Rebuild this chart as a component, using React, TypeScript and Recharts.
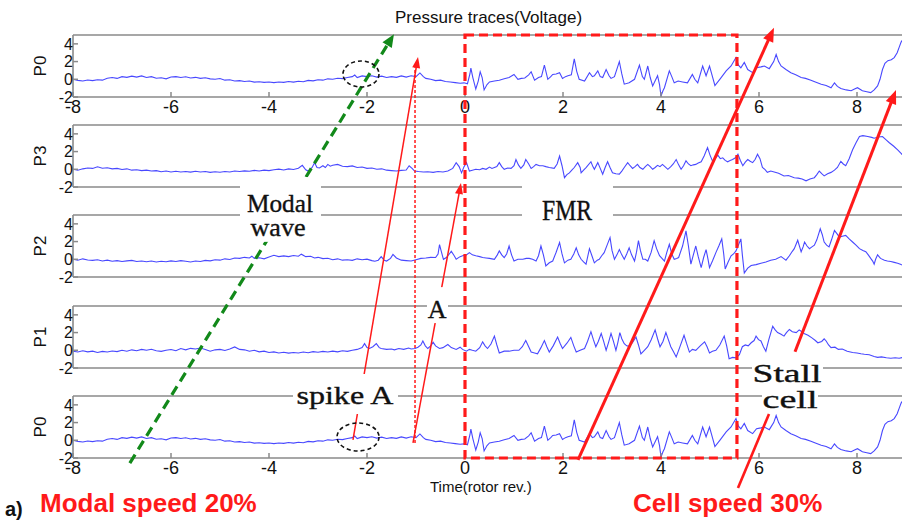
import React from 'react';
import {
  LineChart,
  Line,
  XAxis,
  YAxis,
  ComposedChart,
  ReferenceLine,
  ReferenceArea,
  ReferenceDot,
} from 'recharts';

// ---------- axis values ----------
const X_TICKS = [-8, -6, -4, -2, 0, 2, 4, 6, 8];
const Y_TICKS = [-2, 0, 2, 4];
const X_DOMAIN: [number, number] = [-8, 9];
const Y_DOMAIN: [number, number] = [-2, 5];
const PANEL_LABELS = ['P0', 'P3', 'P2', 'P1', 'P0'];

// ---------- traces: [time (rotor rev.), voltage] ----------
const P0: [number, number][] = [
  [-8.0, 0.0], [-7.9, -0.12], [-7.8, -0.2], [-7.7, -0.08], [-7.6, -0.15], [-7.5, -0.05], [-7.4, -0.1], [-7.3, 0.12],
  [-7.2, 0.2], [-7.1, 0.1], [-7.0, 0.3], [-6.9, 0.22], [-6.8, 0.35], [-6.7, 0.25], [-6.6, 0.38], [-6.5, 0.2],
  [-6.4, 0.3], [-6.3, 0.12], [-6.2, 0.18], [-6.1, 0.05], [-6.0, 0.25], [-5.9, 0.3], [-5.8, 0.2], [-5.7, 0.28],
  [-5.6, 0.15], [-5.5, 0.22], [-5.4, 0.1], [-5.3, 0.18], [-5.2, 0.05], [-5.1, 0.0], [-5.0, 0.08], [-4.9, -0.1],
  [-4.8, -0.05], [-4.7, -0.2], [-4.6, -0.15], [-4.5, -0.25], [-4.4, -0.2], [-4.3, -0.32], [-4.2, -0.28], [-4.1, -0.35],
  [-4.0, -0.3], [-3.9, -0.38], [-3.8, -0.3], [-3.7, -0.35], [-3.6, -0.25], [-3.5, -0.32], [-3.4, -0.22], [-3.3, -0.28],
  [-3.2, -0.12], [-3.1, -0.18], [-3.0, -0.05], [-2.9, -0.1], [-2.8, 0.05], [-2.7, 0.0], [-2.6, 0.12], [-2.5, 0.08],
  [-2.4, 0.2], [-2.3, 0.3], [-2.25, 0.48], [-2.2, 0.2], [-2.1, 0.38], [-2.0, 0.3], [-1.9, 0.4], [-1.8, 0.25],
  [-1.7, 0.35], [-1.6, 0.2], [-1.5, 0.3], [-1.4, 0.22], [-1.3, 0.38], [-1.2, 0.25], [-1.1, 0.4], [-1.0, 0.3],
  [-0.92, 0.72], [-0.85, 0.3], [-0.8, 0.1], [-0.7, 0.0], [-0.6, -0.15], [-0.5, -0.1], [-0.4, -0.25], [-0.3, -0.3],
  [-0.2, -0.38], [-0.1, -0.45], [-0.02, -0.4], [0.05, -0.5], [0.1, 0.6], [0.12, 1.25], [0.16, 0.2], [0.22, -1.1],
  [0.27, -0.2], [0.31, 0.85], [0.35, 0.2], [0.39, -1.2], [0.45, -0.6], [0.5, -0.3], [0.6, -0.2], [0.7, -0.1],
  [0.8, 0.05], [0.9, 0.2], [1.0, 0.55], [1.08, 0.0], [1.15, 0.1], [1.22, 0.15], [1.3, 0.5], [1.35, 0.85],
  [1.42, -0.1], [1.5, 0.2], [1.56, 0.3], [1.62, 1.6], [1.69, 0.0], [1.75, 0.3], [1.79, 0.55], [1.86, 0.6],
  [1.93, 0.75], [1.99, 0.1], [2.05, 0.3], [2.1, 0.4], [2.17, 0.5], [2.23, 2.3], [2.28, 0.9], [2.33, 0.0],
  [2.44, -0.2], [2.54, 0.75], [2.6, 0.3], [2.64, 0.4], [2.71, 0.95], [2.76, 0.3], [2.81, 0.2], [2.88, 1.1],
  [2.94, 0.4], [2.98, 0.1], [3.05, 0.3], [3.15, 2.0], [3.2, 0.6], [3.25, -0.55], [3.35, -0.4], [3.46, 0.0],
  [3.56, 1.6], [3.62, 0.3], [3.66, 0.0], [3.73, 1.5], [3.78, 0.2], [3.83, -0.75], [3.93, 0.4], [3.97, -0.6],
  [4.0, -1.9], [4.04, -1.3], [4.07, -0.95], [4.17, 0.95], [4.22, 0.3], [4.27, -0.4], [4.35, -0.2], [4.44, -0.3],
  [4.54, -0.4], [4.64, 0.55], [4.69, 0.0], [4.75, -0.4], [4.85, 1.5], [4.92, 0.4], [4.99, 1.5], [5.05, 0.3],
  [5.1, -0.7], [5.2, 0.0], [5.33, 0.95], [5.43, 1.5], [5.53, 2.45], [5.58, 1.6], [5.63, 1.3], [5.7, 1.9],
  [5.77, 1.1], [5.87, 0.75], [5.95, 1.3], [6.04, 1.4], [6.11, 1.5], [6.21, 1.2], [6.3, 2.0], [6.35, 2.8],
  [6.4, 2.0], [6.45, 1.5], [6.55, 1.1], [6.65, 0.75], [6.75, 0.5], [6.86, 0.2], [6.95, 0.1], [7.06, -0.1],
  [7.15, -0.3], [7.27, -0.55], [7.37, -0.7], [7.47, -0.95], [7.54, -0.4], [7.6, -0.8], [7.67, -1.05], [7.78, -1.2],
  [7.88, -1.3], [7.95, -1.1], [8.01, -0.95], [8.11, -1.3], [8.2, -1.4], [8.28, -1.5], [8.35, -1.2], [8.42, -0.75],
  [8.47, 0.0], [8.52, 1.1], [8.57, 1.8], [8.63, 2.1], [8.7, 2.2], [8.76, 2.45], [8.82, 3.0], [8.86, 3.6],
  [8.9, 4.2], [8.95, 4.6], [9.0, 4.8],
];

const P3: [number, number][] = [
  [-8.0, 0.0], [-7.9, -0.1], [-7.8, 0.05], [-7.7, 0.15], [-7.6, 0.1], [-7.5, 0.28], [-7.4, 0.12], [-7.3, 0.18],
  [-7.2, 0.05], [-7.1, 0.1], [-7.0, -0.02], [-6.9, 0.05], [-6.8, -0.1], [-6.7, -0.05], [-6.6, -0.15], [-6.5, -0.1],
  [-6.4, -0.2], [-6.3, -0.15], [-6.2, -0.28], [-6.1, -0.2], [-6.0, -0.3], [-5.9, -0.22], [-5.8, -0.3], [-5.7, -0.25],
  [-5.6, -0.32], [-5.5, -0.22], [-5.4, -0.3], [-5.3, -0.25], [-5.2, -0.35], [-5.1, -0.28], [-5.0, -0.33], [-4.9, -0.25],
  [-4.8, -0.3], [-4.7, -0.2], [-4.6, -0.25], [-4.5, -0.18], [-4.4, -0.22], [-4.3, -0.12], [-4.2, -0.2], [-4.1, -0.1],
  [-4.0, -0.15], [-3.9, -0.05], [-3.8, 0.02], [-3.7, -0.08], [-3.6, 0.05], [-3.5, -0.02], [-3.4, 0.12], [-3.32, 0.45],
  [-3.25, -0.05], [-3.2, -0.2], [-3.12, 0.2], [-3.07, 0.75], [-3.02, 0.2], [-2.97, 0.15], [-2.9, 0.4], [-2.85, 0.2],
  [-2.8, 0.55], [-2.75, 0.35], [-2.7, 0.45], [-2.6, 0.55], [-2.5, 0.35], [-2.4, 0.3], [-2.3, 0.38], [-2.2, 0.2],
  [-2.1, 0.25], [-2.0, 0.1], [-1.9, 0.15], [-1.8, 0.0], [-1.7, 0.05], [-1.6, -0.1], [-1.5, -0.15], [-1.4, -0.2],
  [-1.3, -0.12], [-1.2, -0.08], [-1.14, 0.4], [-1.08, 0.1], [-1.03, -0.2], [-0.95, -0.25], [-0.85, -0.3], [-0.76, -0.28],
  [-0.65, -0.35], [-0.55, -0.25], [-0.45, -0.3], [-0.35, -0.2], [-0.25, 0.1], [-0.18, 0.75], [-0.12, 0.3], [-0.07, -0.4],
  [-0.02, 0.3], [0.03, 0.75], [0.09, -0.2], [0.15, -0.1], [0.22, 0.0], [0.3, -0.05], [0.36, 0.1], [0.43, 0.0],
  [0.5, 0.25], [0.55, 0.1], [0.6, 0.2], [0.65, 0.3], [0.7, 0.75], [0.75, 0.3], [0.8, 0.0], [0.87, 0.15],
  [0.94, 0.1], [1.0, 0.4], [1.04, 1.1], [1.09, 0.5], [1.14, 0.1], [1.2, 0.5], [1.24, 1.1], [1.3, 0.6],
  [1.35, 0.1], [1.4, 0.3], [1.45, 0.55], [1.52, 0.4], [1.59, 0.4], [1.65, 0.3], [1.72, 0.2], [1.82, 0.1],
  [1.88, 0.6], [1.93, 1.5], [1.98, 0.4], [2.03, -0.95], [2.08, -0.6], [2.13, -0.4], [2.18, -0.1], [2.23, 0.2],
  [2.3, 0.75], [2.35, 0.2], [2.37, -0.4], [2.42, -0.1], [2.47, 0.2], [2.57, 0.85], [2.61, 0.3], [2.64, 0.0],
  [2.71, 0.75], [2.76, 0.1], [2.81, -0.55], [2.86, 0.2], [2.91, 0.85], [2.96, 0.2], [3.01, -0.4], [3.08, -0.5],
  [3.15, -0.55], [3.2, -0.2], [3.25, 0.2], [3.32, 0.75], [3.37, 0.4], [3.42, 0.1], [3.47, 0.3], [3.52, 0.55],
  [3.57, 0.2], [3.63, 0.0], [3.68, 0.3], [3.73, 0.55], [3.78, 0.3], [3.83, 0.0], [3.88, 0.2], [3.93, 0.45],
  [3.98, 0.3], [4.03, 0.55], [4.08, 0.3], [4.14, 0.0], [4.2, 0.3], [4.25, 0.6], [4.31, 1.1], [4.36, 0.5],
  [4.41, 0.0], [4.46, 0.4], [4.51, 0.95], [4.56, 0.6], [4.61, 0.4], [4.66, 0.5], [4.71, 0.55], [4.76, 0.7],
  [4.82, 0.85], [4.88, 1.5], [4.95, 2.45], [5.0, 1.6], [5.05, 0.95], [5.1, 1.2], [5.16, 1.6], [5.21, 1.2],
  [5.26, 1.3], [5.31, 1.0], [5.36, 0.85], [5.41, 1.0], [5.46, 1.1], [5.52, 1.3], [5.57, 1.7], [5.62, 1.0],
  [5.67, 0.4], [5.72, 0.8], [5.77, 1.1], [5.82, 0.9], [5.87, 0.75], [5.92, 1.1], [5.97, 1.7], [6.02, 1.2],
  [6.07, 0.2], [6.12, 0.0], [6.17, -0.35], [6.24, -0.2], [6.31, -0.3], [6.4, -0.45], [6.51, -0.75], [6.6, -0.7],
  [6.72, -0.95], [6.8, -1.0], [6.88, -1.1], [6.96, -1.3], [7.04, -1.1], [7.13, -0.95], [7.18, -0.6], [7.23, -0.2],
  [7.28, -0.5], [7.33, -0.75], [7.4, -0.5], [7.47, -0.35], [7.54, -0.1], [7.6, 0.2], [7.67, 0.9], [7.72, 0.6],
  [7.77, 0.4], [7.84, 1.2], [7.91, 2.2], [7.98, 3.0], [8.05, 3.7], [8.12, 3.8], [8.22, 3.7], [8.3, 3.6],
  [8.35, 3.5], [8.44, 3.65], [8.52, 3.7], [8.6, 3.3], [8.66, 3.0], [8.75, 2.6], [8.83, 2.2], [8.9, 1.8],
  [8.95, 1.5], [9.0, 1.3],
];

const P2: [number, number][] = [
  [-8.0, 0.0], [-7.9, -0.1], [-7.8, 0.05], [-7.7, -0.08], [-7.6, -0.12], [-7.5, -0.05], [-7.4, -0.2], [-7.3, -0.1],
  [-7.2, -0.22], [-7.1, -0.15], [-7.0, -0.25], [-6.9, -0.18], [-6.8, -0.12], [-6.7, -0.25], [-6.6, -0.2], [-6.5, -0.28],
  [-6.4, -0.2], [-6.3, -0.3], [-6.2, -0.22], [-6.1, -0.28], [-6.0, -0.18], [-5.9, -0.25], [-5.8, -0.15], [-5.7, -0.22],
  [-5.6, -0.3], [-5.5, -0.2], [-5.4, -0.25], [-5.3, -0.12], [-5.2, -0.18], [-5.1, -0.05], [-5.0, -0.1], [-4.9, 0.05],
  [-4.8, -0.02], [-4.7, 0.15], [-4.6, 0.1], [-4.5, 0.22], [-4.4, 0.15], [-4.35, 0.35], [-4.3, 0.1], [-4.2, 0.18],
  [-4.1, 0.05], [-4.0, 0.25], [-3.9, 0.45], [-3.8, 0.3], [-3.7, 0.38], [-3.6, 0.3], [-3.5, 0.42], [-3.4, 0.35],
  [-3.34, 0.58], [-3.25, 0.3], [-3.15, 0.35], [-3.07, 0.15], [-3.0, 0.22], [-2.9, 0.08], [-2.8, 0.12], [-2.7, -0.05],
  [-2.6, 0.05], [-2.5, -0.1], [-2.4, -0.05], [-2.3, -0.12], [-2.2, 0.05], [-2.1, -0.05], [-2.0, 0.02], [-1.9, -0.15],
  [-1.84, -0.22], [-1.77, -0.1], [-1.71, 0.3], [-1.65, -0.1], [-1.6, -0.2], [-1.52, 0.1], [-1.47, 0.55], [-1.4, 0.15],
  [-1.3, -0.1], [-1.2, -0.15], [-1.1, -0.2], [-1.0, -0.05], [-0.9, 0.1], [-0.8, 0.15], [-0.7, 0.22], [-0.6, 0.2],
  [-0.55, 0.6], [-0.52, 1.65], [-0.48, 0.8], [-0.44, 0.0], [-0.38, 0.2], [-0.32, 0.6], [-0.28, 0.9], [-0.22, 0.4],
  [-0.18, 0.0], [-0.1, 0.3], [-0.05, 0.4], [0.02, 0.45], [0.09, 0.75], [0.15, 0.5], [0.22, 0.4], [0.3, 0.3],
  [0.36, 0.2], [0.43, 0.15], [0.5, 0.1], [0.55, 0.05], [0.6, 0.0], [0.66, 0.5], [0.7, 0.95], [0.75, 0.5],
  [0.8, 0.2], [0.85, 0.6], [0.9, 1.5], [0.95, 0.5], [1.0, -0.2], [1.08, 0.0], [1.18, 0.0], [1.25, 0.1],
  [1.31, 0.1], [1.38, 0.0], [1.45, -0.2], [1.5, 0.4], [1.55, 1.5], [1.6, 0.5], [1.65, -0.75], [1.72, -0.4],
  [1.79, -0.2], [1.86, 0.8], [1.93, 1.9], [1.98, 0.6], [2.03, -0.4], [2.1, -0.1], [2.16, 0.0], [2.22, 0.6],
  [2.27, 1.3], [2.32, 0.5], [2.37, 0.0], [2.42, -0.3], [2.47, -0.55], [2.54, 1.2], [2.59, 0.4], [2.64, -0.4],
  [2.7, -0.1], [2.74, 0.0], [2.79, 0.4], [2.84, 0.75], [2.9, 1.6], [2.96, 2.45], [3.0, 1.0], [3.05, 0.0],
  [3.1, 0.5], [3.15, 1.1], [3.2, 0.5], [3.25, 0.0], [3.3, 0.6], [3.35, 1.3], [3.4, 0.5], [3.46, -0.2],
  [3.5, 0.8], [3.54, 2.1], [3.58, 1.0], [3.63, 0.0], [3.68, 0.0], [3.73, -0.2], [3.8, 0.8], [3.86, 2.1],
  [3.91, 1.2], [3.97, 0.4], [4.02, 0.1], [4.07, -0.2], [4.12, 0.8], [4.17, 1.7], [4.22, 0.6], [4.27, 0.0],
  [4.32, 0.1], [4.36, 0.2], [4.44, 1.5], [4.51, 3.2], [4.56, 1.5], [4.61, -0.55], [4.66, 0.5], [4.71, 1.5],
  [4.76, 0.3], [4.82, -0.95], [4.87, 0.2], [4.92, 1.1], [4.96, 0.0], [4.99, -0.95], [5.05, -0.2], [5.12, 0.75],
  [5.18, 1.5], [5.24, 2.3], [5.28, 0.6], [5.31, -1.1], [5.37, -0.3], [5.43, 0.4], [5.48, 0.6], [5.53, 0.95],
  [5.58, 1.6], [5.63, 2.3], [5.66, 0.5], [5.7, -1.55], [5.77, -1.0], [5.84, -0.7], [5.94, -0.6], [6.04, -0.45],
  [6.14, -0.3], [6.24, -0.1], [6.34, 0.0], [6.45, 0.3], [6.5, 0.1], [6.55, -0.1], [6.62, 0.4], [6.68, 0.9],
  [6.72, 1.2], [6.79, 2.15], [6.83, 1.4], [6.86, 0.85], [6.9, 1.4], [6.93, 1.95], [6.98, 1.5], [7.03, 1.2],
  [7.08, 1.4], [7.13, 1.6], [7.18, 2.2], [7.25, 3.45], [7.29, 2.8], [7.33, 1.95], [7.38, 1.6], [7.43, 1.4],
  [7.48, 2.2], [7.54, 3.25], [7.59, 2.9], [7.64, 2.5], [7.7, 2.6], [7.77, 2.7], [7.84, 2.3], [7.91, 1.95],
  [7.98, 1.6], [8.05, 1.2], [8.12, 1.0], [8.18, 0.85], [8.23, 0.5], [8.28, 0.1], [8.32, -0.2], [8.35, -0.55],
  [8.38, 0.0], [8.42, 0.5], [8.48, 0.1], [8.56, -0.1], [8.62, -0.2], [8.69, -0.25], [8.76, -0.35], [8.83, -0.45],
  [8.9, -0.6], [8.95, -0.7], [9.0, -0.75],
];

const P1: [number, number][] = [
  [-8.0, -0.1], [-7.9, -0.2], [-7.8, -0.05], [-7.7, -0.18], [-7.6, -0.1], [-7.5, -0.25], [-7.4, -0.12], [-7.3, -0.2],
  [-7.2, -0.08], [-7.1, -0.15], [-7.0, 0.0], [-6.9, -0.1], [-6.8, 0.05], [-6.7, -0.05], [-6.6, 0.1], [-6.5, 0.0],
  [-6.4, 0.12], [-6.3, -0.05], [-6.2, -0.12], [-6.1, 0.0], [-6.0, 0.08], [-5.9, -0.05], [-5.8, 0.2], [-5.7, 0.05],
  [-5.6, 0.22], [-5.5, 0.15], [-5.4, 0.25], [-5.3, 0.1], [-5.2, -0.1], [-5.1, 0.05], [-5.0, 0.1], [-4.9, -0.02],
  [-4.8, 0.15], [-4.7, 0.38], [-4.6, 0.1], [-4.5, 0.05], [-4.4, -0.1], [-4.3, 0.0], [-4.2, -0.18], [-4.1, -0.1],
  [-4.0, -0.25], [-3.9, -0.18], [-3.8, -0.3], [-3.7, -0.22], [-3.6, -0.32], [-3.5, -0.25], [-3.4, -0.3], [-3.3, -0.2],
  [-3.2, -0.28], [-3.1, -0.15], [-3.0, -0.22], [-2.9, -0.12], [-2.8, -0.2], [-2.7, -0.1], [-2.6, -0.18], [-2.5, -0.05],
  [-2.4, -0.12], [-2.3, 0.0], [-2.2, 0.1], [-2.1, 0.3], [-2.05, 0.75], [-2.0, 0.3], [-1.95, 0.2], [-1.88, 0.4],
  [-1.81, 0.75], [-1.75, 0.3], [-1.71, 0.2], [-1.6, 0.1], [-1.5, 0.15], [-1.44, 0.05], [-1.35, 0.2], [-1.25, 0.1],
  [-1.15, 0.25], [-1.1, 0.15], [-1.02, 0.2], [-0.96, 0.35], [-0.9, 0.6], [-0.86, 1.05], [-0.81, 0.5], [-0.76, 0.2],
  [-0.7, 0.5], [-0.65, 0.9], [-0.6, 0.5], [-0.52, 0.2], [-0.45, 0.3], [-0.35, 0.65], [-0.28, 0.3], [-0.18, 0.1],
  [-0.1, 0.35], [-0.05, 0.1], [0.03, -0.1], [0.09, 0.1], [0.15, 0.0], [0.22, -0.1], [0.3, 0.3], [0.36, 0.95],
  [0.41, 0.5], [0.46, 0.2], [0.53, 0.7], [0.6, 1.6], [0.65, 0.6], [0.7, -0.3], [0.8, -0.1], [0.9, -0.1],
  [1.0, 0.0], [1.1, 0.0], [1.17, 0.4], [1.24, 1.1], [1.3, 0.4], [1.35, -0.2], [1.42, -0.3], [1.48, -0.4],
  [1.55, 0.3], [1.62, 1.1], [1.67, 0.4], [1.72, -0.2], [1.8, 0.5], [1.89, 1.5], [1.94, 0.8], [1.99, 0.2],
  [2.08, 0.8], [2.16, 1.45], [2.22, 0.5], [2.27, -0.2], [2.35, 0.0], [2.44, 0.2], [2.5, 1.0], [2.57, 2.1],
  [2.62, 1.2], [2.67, 0.4], [2.72, 1.0], [2.78, 1.9], [2.83, 1.0], [2.88, 0.0], [2.93, 0.9], [2.98, 1.9],
  [3.03, 1.0], [3.08, 0.0], [3.12, 0.9], [3.16, 2.0], [3.2, 1.3], [3.25, 0.75], [3.3, 0.5], [3.35, 0.45],
  [3.42, 0.9], [3.49, 1.5], [3.54, 0.6], [3.59, -0.4], [3.66, 0.0], [3.73, 0.4], [3.8, 1.2], [3.88, 2.3],
  [3.93, 1.3], [3.98, 0.4], [4.04, 1.0], [4.1, 2.0], [4.15, 1.2], [4.2, 0.4], [4.25, -0.1], [4.31, -0.75],
  [4.38, 0.3], [4.47, 1.7], [4.52, 0.8], [4.58, -0.2], [4.64, 0.1], [4.71, 0.0], [4.8, 0.5], [4.89, 0.95],
  [4.94, 0.4], [4.99, -0.3], [5.05, -0.1], [5.12, 0.0], [5.2, 0.6], [5.29, 1.6], [5.34, 0.5], [5.39, -0.95],
  [5.46, -0.8], [5.53, -0.85], [5.6, -0.5], [5.66, 0.4], [5.72, 0.6], [5.78, 0.5], [5.84, 0.85], [5.9, 1.1],
  [5.94, 1.6], [5.99, 1.2], [6.04, 1.05], [6.09, 0.4], [6.14, -0.1], [6.2, 1.2], [6.28, 2.7], [6.33, 2.3],
  [6.38, 2.0], [6.45, 1.8], [6.51, 1.6], [6.56, 2.0], [6.62, 2.35], [6.68, 2.1], [6.76, 2.0], [6.82, 2.3],
  [6.86, 2.15], [6.92, 1.9], [7.0, 1.7], [7.08, 1.4], [7.15, 1.1], [7.2, 0.85], [7.28, 1.0], [7.33, 1.3],
  [7.37, 1.05], [7.42, 0.6], [7.47, 0.3], [7.55, 0.35], [7.62, 0.1], [7.7, 0.15], [7.8, -0.1], [7.91, -0.25],
  [8.0, -0.3], [8.08, -0.4], [8.15, -0.45], [8.25, -0.5], [8.35, -0.7], [8.42, -0.8], [8.5, -0.75], [8.6, -0.85],
  [8.69, -0.9], [8.78, -0.85], [8.86, -0.9], [8.94, -0.8], [9.0, -0.85],
];

const PANEL_TRACES = [P0, P3, P2, P1, P0];

// ---------- annotations: [time, stack height % (0 = bottom of last panel, 100 = top of first)] ----------
const MODAL_WAVE_PATH: [number, number][] = [[-6.84, -1.2], [-1.45, 100.2]];
const SPIKE_A_PATH: [number, number][] = [[-2.286, 4.26], [-0.959, 94.8]];
const A_PATH: [number, number][] = [[-1.061, 3.55], [-0.082, 65.0]];
const SPIKE_A_TIME: [number, number][] = [[-1.02, 3.55], [-1.02, 92.4]];
const CELL_PATH_1: [number, number][] = [[2.306, -0.47], [6.306, 101.7]];
const CELL_PATH_2: [number, number][] = [[6.735, 25.1], [8.796, 87.0]];
const CELL_POINTER: [number, number][] = [[5.571, -7.09], [6.204, 10.4]];
const FMR_WINDOW = { t1: 0, t2: 5.55, h1: 0, h2: 100 };
const SPIKE_MARKS = [
  { t1: -2.49, t2: -1.755, h1: 87.7, h2: 93.85 },
  { t1: -2.612, t2: -1.755, h1: 1.65, h2: 8.27 },
];
const LABEL_BOXES = [
  { t1: -4.592, t2: -2.939, h1: 51.1, h2: 66.4 },
  { t1: 1.163, t2: 3.02, h1: 55.8, h2: 65.7 },
  { t1: -0.776, t2: -0.347, h1: 31.9, h2: 40.4 },
  { t1: -3.51, t2: -1.367, h1: 10.4, h2: 19.86 },
  { t1: 5.857, t2: 7.306, h1: 17.0, h2: 23.6 },
  { t1: 6.061, t2: 7.204, h1: 10.9, h2: 17.0 },
];
const LABEL_TEXTS = [
  { text: 'Modal', t: -3.776, h: 58.2, size: 25, len: 66 },
  { text: 'wave', t: -3.816, h: 52.5, size: 25, len: 55 },
  { text: 'FMR', t: 2.082, h: 56.3, size: 29, len: 50 },
  { text: 'A', t: -0.571, h: 33.1, size: 26, len: 0 },
  { text: 'spike A', t: -2.449, h: 12.77, size: 25, len: 97 },
  { text: 'Stall', t: 6.571, h: 17.97, size: 25, len: 69 },
  { text: 'cell', t: 6.633, h: 11.82, size: 25, len: 55 },
];
const ALL_PATHS = [MODAL_WAVE_PATH, SPIKE_A_PATH, A_PATH, SPIKE_A_TIME, CELL_PATH_1, CELL_PATH_2, CELL_POINTER];
const OVERLAY_DATA = ALL_PATHS.flat().map(([t, h]) => ({ t, h }));

// ---------- styles ----------
const FRAME = '#8a8a8a';
const TRACE = '#4848ff';
const RED = '#ff1a1a';
const GREEN = '#12891a';
const PANEL_TOPS = [35, 125, 215, 306, 396];
const PANEL_H = 62;
const CHART_W = 910;

function segmentShape(color: string, width: number, dash?: string, head?: [number, number]) {
  return (p: any) => {
    const { x1, y1, x2, y2 } = p;
    if ([x1, y1, x2, y2].some((v) => typeof v !== 'number' || Number.isNaN(v))) return <g />;
    const dx = x2 - x1;
    const dy = y2 - y1;
    const len = Math.hypot(dx, dy) || 1;
    const ux = dx / len;
    const uy = dy / len;
    let ex = x2;
    let ey = y2;
    let poly: React.ReactNode = null;
    if (head) {
      const bx = x2 - ux * head[0];
      const by = y2 - uy * head[0];
      const px = -uy * head[1];
      const py = ux * head[1];
      ex = x2 - ux * head[0] * 0.7;
      ey = y2 - uy * head[0] * 0.7;
      poly = <polygon points={`${x2},${y2} ${bx + px},${by + py} ${bx - px},${by - py}`} fill={color} />;
    }
    return (
      <g>
        <line x1={x1} y1={y1} x2={ex} y2={ey} stroke={color} strokeWidth={width} strokeDasharray={dash} />
        {poly}
      </g>
    );
  };
}

const whiteBox = (p: any) => <rect x={p.x} y={p.y} width={p.width} height={p.height} fill="#ffffff" />;
const ellipseShape = (p: any) => (
  <ellipse
    cx={p.x + p.width / 2}
    cy={p.y + p.height / 2}
    rx={Math.abs(p.width / 2)}
    ry={Math.abs(p.height / 2)}
    fill="none"
    stroke="#111"
    strokeWidth={1.6}
    strokeDasharray="4 3"
  />
);
const windowShape = (p: any) => (
  <rect x={p.x} y={p.y} width={p.width} height={p.height} fill="none" stroke={RED} strokeWidth={3.2} strokeDasharray="9 5" />
);
const textShape = (text: string, size: number, len: number) => (p: any) => (
  <text
    x={p.cx}
    y={p.cy}
    textAnchor="middle"
    fontFamily="'Liberation Serif', 'DejaVu Serif', serif"
    fontSize={size}
    fill="#111"
    stroke="#111"
    strokeWidth={0.35}
    {...(len ? { textLength: len, lengthAdjust: 'spacingAndGlyphs' } : {})}
  >
    {text}
  </text>
);

function Panel({ index }: { index: number }) {
  const trace = PANEL_TRACES[index];
  const data = trace.map(([t, v]) => ({ t, v }));
  const outer = index === 0 || index === 4;
  const bottomH = outer ? 30 : 1;
  const top = PANEL_TOPS[index];
  const label = PANEL_LABELS[index];
  return (
    <div style={{ position: 'absolute', left: 0, top: top - 1 }}>
      <LineChart width={CHART_W} height={1 + PANEL_H + bottomH} data={data} margin={{ top: 0, right: 0, bottom: 0, left: 0 }}>
        <XAxis
          xAxisId="top"
          orientation="top"
          type="number"
          dataKey="t"
          domain={X_DOMAIN}
          allowDataOverflow
          ticks={X_TICKS}
          interval={0}
          height={1}
          tick={false}
          tickSize={-5}
          tickLine={outer ? { stroke: FRAME, strokeWidth: 1.5 } : false}
          axisLine={{ stroke: FRAME, strokeWidth: 1.6 }}
        />
        <XAxis
          xAxisId="bottom"
          orientation="bottom"
          type="number"
          dataKey="t"
          domain={X_DOMAIN}
          allowDataOverflow
          ticks={X_TICKS}
          interval={0}
          height={bottomH}
          tick={outer ? { fontSize: 18, fill: '#111' } : false}
          tickSize={-5}
          tickMargin={8}
          tickLine={outer ? { stroke: FRAME, strokeWidth: 1.5 } : false}
          axisLine={{ stroke: FRAME, strokeWidth: 1.6 }}
        />
        <YAxis
          yAxisId="left"
          orientation="left"
          type="number"
          domain={Y_DOMAIN}
          allowDataOverflow
          ticks={Y_TICKS}
          interval={0}
          width={73}
          tickSize={-5}
          tickMargin={5}
          tick={{ fontSize: 16, fill: '#111' }}
          tickLine={{ stroke: FRAME, strokeWidth: 1.5 }}
          axisLine={{ stroke: FRAME, strokeWidth: 1.6 }}
          label={{
            content: (lp: any) => {
              const vb = lp.viewBox || { x: 0, y: 0, width: 73, height: PANEL_H };
              const cx = vb.x + vb.width * 0.56;
              const cy = vb.y + vb.height / 2;
              return (
                <text x={cx} y={cy} transform={`rotate(-90 ${cx} ${cy})`} textAnchor="middle" dominantBaseline="central" fontSize={17} fill="#111">
                  {label}
                </text>
              );
            },
          }}
        />
        <YAxis
          yAxisId="right"
          orientation="right"
          type="number"
          domain={Y_DOMAIN}
          allowDataOverflow
          ticks={Y_TICKS}
          interval={0}
          width={4}
          tickSize={-5}
          tick={false}
          tickLine={{ stroke: FRAME, strokeWidth: 1.5 }}
          axisLine={{ stroke: FRAME, strokeWidth: 1.6 }}
        />
        <Line
          xAxisId="bottom"
          yAxisId="left"
          type="linear"
          dataKey="v"
          stroke={TRACE}
          strokeWidth={1.1}
          dot={false}
          activeDot={false}
          isAnimationActive={false}
        />
      </LineChart>
    </div>
  );
}

const OVERLAY_MARGIN = { top: 35, right: 4, bottom: 62, left: 73 };

function seg(path: [number, number][]) {
  return [
    { x: path[0][0], y: path[0][1] },
    { x: path[1][0], y: path[1][1] },
  ];
}

function OverlayBack() {
  return (
    <div style={{ position: 'absolute', left: 0, top: 0 }}>
      <ComposedChart width={CHART_W} height={520} margin={OVERLAY_MARGIN} data={OVERLAY_DATA}>
        <XAxis type="number" dataKey="t" domain={X_DOMAIN} hide allowDataOverflow />
        <YAxis type="number" dataKey="h" domain={[0, 100]} hide allowDataOverflow />
        <ReferenceLine segment={seg(MODAL_WAVE_PATH)} ifOverflow="visible" shape={segmentShape(GREEN, 3.2, '10 6', [13, 5.5])} />
        <ReferenceLine segment={seg(SPIKE_A_PATH)} ifOverflow="visible" shape={segmentShape(RED, 1.5, undefined, [11, 4])} />
        <ReferenceLine segment={seg(A_PATH)} ifOverflow="visible" shape={segmentShape(RED, 1.5, undefined, [11, 4])} />
        <ReferenceLine segment={seg(SPIKE_A_TIME)} ifOverflow="visible" shape={segmentShape(RED, 1.5, '3 2')} />
      </ComposedChart>
    </div>
  );
}

function OverlayFront() {
  return (
    <div style={{ position: 'absolute', left: 0, top: 0 }}>
      <ComposedChart width={CHART_W} height={520} margin={OVERLAY_MARGIN} data={OVERLAY_DATA}>
        <XAxis type="number" dataKey="t" domain={X_DOMAIN} hide allowDataOverflow />
        <YAxis type="number" dataKey="h" domain={[0, 100]} hide allowDataOverflow />
        {LABEL_BOXES.map((b, i) => (
          <ReferenceArea key={`box${i}`} x1={b.t1} x2={b.t2} y1={b.h1} y2={b.h2} ifOverflow="visible" shape={whiteBox} />
        ))}
        {LABEL_TEXTS.map((l, i) => (
          <ReferenceDot key={`txt${i}`} x={l.t} y={l.h} r={1} ifOverflow="visible" shape={textShape(l.text, l.size, l.len)} />
        ))}
        <ReferenceArea
          x1={FMR_WINDOW.t1}
          x2={FMR_WINDOW.t2}
          y1={FMR_WINDOW.h1}
          y2={FMR_WINDOW.h2}
          ifOverflow="visible"
          shape={windowShape}
        />
        {SPIKE_MARKS.map((m, i) => (
          <ReferenceArea key={`ell${i}`} x1={m.t1} x2={m.t2} y1={m.h1} y2={m.h2} ifOverflow="visible" shape={ellipseShape} />
        ))}
        <ReferenceLine segment={seg(CELL_PATH_1)} ifOverflow="visible" shape={segmentShape(RED, 3, undefined, [14, 5.5])} />
        <ReferenceLine segment={seg(CELL_PATH_2)} ifOverflow="visible" shape={segmentShape(RED, 3, undefined, [14, 5.5])} />
        <ReferenceLine segment={seg(CELL_POINTER)} ifOverflow="visible" shape={segmentShape(RED, 2.6)} />
      </ComposedChart>
    </div>
  );
}

export default function App() {
  return (
    <div
      style={{
        position: 'fixed',
        left: 0,
        top: 0,
        width: 902,
        height: 520,
        overflow: 'hidden',
        background: '#ffffff',
        fontFamily: "'Liberation Sans', Arial, sans-serif",
      }}
    >
      <style>{'.recharts-surface { overflow: visible; }'}</style>
      {[0, 1, 2, 3, 4].map((i) => (
        <Panel key={i} index={i} />
      ))}
      <OverlayBack />
      <OverlayFront />
      <svg width={902} height={520} style={{ position: 'absolute', left: 0, top: 0, pointerEvents: 'none' }}>
        <text x={395} y={23} fontSize={17} fill="#111">Pressure traces(Voltage)</text>
        <text x={430} y={492} fontSize={15} fill="#111">Time(rotor rev.)</text>
        <text x={5} y={516} fontSize={20} fontWeight="bold" fill="#111">a)</text>
        <text x={40} y={512} fontSize={26} fontWeight="bold" fill={RED}>Modal speed 20%</text>
        <text x={633} y={512} fontSize={26} fontWeight="bold" fill={RED}>Cell speed 30%</text>
      </svg>
    </div>
  );
}
